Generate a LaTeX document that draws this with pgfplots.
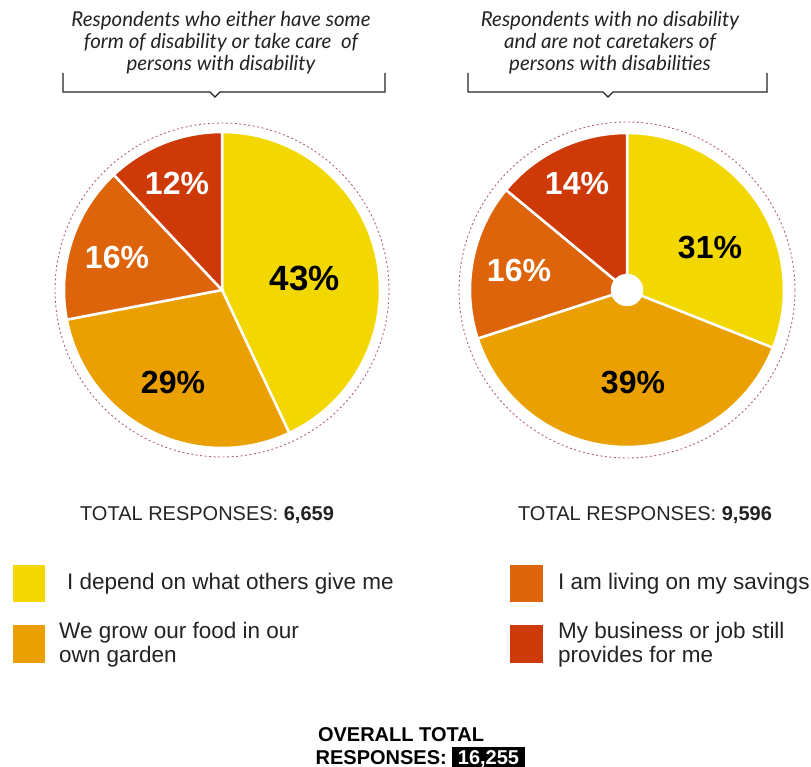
\documentclass[border=0pt]{standalone}
\usepackage{pgfplots}
\pgfplotsset{compat=1.18}
\usepgfplotslibrary{polar}
\usepackage{fontspec}
\setmainfont{Liberation Sans}
\newfontfamily\lato{Lato}
\definecolor{cY}{RGB}{242,216,0}
\definecolor{cO}{RGB}{234,160,0}
\definecolor{cD}{RGB}{222,100,12}
\definecolor{cR}{RGB}{205,58,8}
\definecolor{cDash}{RGB}{175,100,110}
\definecolor{txt}{RGB}{35,35,35}
\begin{document}
\begin{tikzpicture}[x=1pt,y=-1pt]
\useasboundingbox (0,0) rectangle (811,767);
% ---------- left pie: 43, 29, 16, 12 ----------
\begin{polaraxis}[at={(222pt,-290pt)}, anchor=origin, hide axis, scale only axis,
  width=336pt, height=336pt, ymin=0, ymax=168, clip=false]
\addplot[fill=cY, draw=white, line width=2.5pt, domain={90-3.6*(43)}:{90}, samples=90] {158} -- (axis cs:0,0) -- cycle;
\addplot[fill=cO, draw=white, line width=2.5pt, domain={90-3.6*(43+29)}:{90-3.6*(43)}, samples=90] {158} -- (axis cs:0,0) -- cycle;
\addplot[fill=cD, draw=white, line width=2.5pt, domain={90-3.6*(43+29+16)}:{90-3.6*(43+29)}, samples=60] {158} -- (axis cs:0,0) -- cycle;
\addplot[fill=cR, draw=white, line width=2.5pt, domain={90-3.6*(43+29+16+12)}:{90-3.6*(43+29+16)}, samples=60] {158} -- (axis cs:0,0) -- cycle;
\addplot[draw=cDash, line width=0.9pt, dash pattern=on 2pt off 2.5pt, domain=0:360, samples=200] {167};
\end{polaraxis}
% ---------- right pie: 31, 39, 16, 14 ----------
\begin{polaraxis}[at={(627pt,-290pt)}, anchor=origin, hide axis, scale only axis,
  width=336pt, height=336pt, ymin=0, ymax=168, clip=false]
\addplot[fill=cY, draw=white, line width=2.5pt, domain={90-3.6*(31)}:{90}, samples=90] {157} -- (axis cs:0,0) -- cycle;
\addplot[fill=cO, draw=white, line width=2.5pt, domain={90-3.6*(31+39)}:{90-3.6*(31)}, samples=90] {157} -- (axis cs:0,0) -- cycle;
\addplot[fill=cD, draw=white, line width=2.5pt, domain={90-3.6*(31+39+16)}:{90-3.6*(31+39)}, samples=60] {157} -- (axis cs:0,0) -- cycle;
\addplot[fill=cR, draw=white, line width=2.5pt, domain={90-3.6*(31+39+16+14)}:{90-3.6*(31+39+16)}, samples=60] {157} -- (axis cs:0,0) -- cycle;
\addplot[only marks, mark=*, mark size=16pt, mark options={fill=white, draw=white}] coordinates {(0,0)};
\addplot[draw=cDash, line width=0.9pt, dash pattern=on 2pt off 2.5pt, domain=0:360, samples=200] {168};
\end{polaraxis}
% ---------- slice labels ----------
\begin{scope}[every node/.style={font=\bfseries\fontsize{32}{32}\selectfont, inner sep=0pt}]
\node[black] at (305,278) {\fontsize{35}{35}\selectfont 43\%};
\node[black] at (173,382) {29\%};
\node[white] at (117,257) {16\%};
\node[white] at (177,183) {12\%};
\node[black] at (710,248) {31\%};
\node[black] at (633,383) {39\%};
\node[white] at (519,270) {16\%};
\node[white] at (577,183) {14\%};
\end{scope}
% ---------- headers ----------
\node[font=\lato\itshape\fontsize{20.5}{22}\selectfont, text=txt, align=center] at (221,43)
  {Respondents who either have some\\form of disability or take care\ \ of\\persons with disability};
\node[font=\lato\itshape\fontsize{20.5}{22}\selectfont, text=txt, align=center] at (610,43)
  {Respondents with no disability\\and are not caretakers of\\persons with disabilities};
\draw[txt, line width=1.3pt] (63,73) -- (63,92) -- (210,92) -- (215,97) -- (220,92) -- (385,92) -- (385,73);
\draw[txt, line width=1.3pt] (468,73) -- (468,92) -- (603,92) -- (608,97) -- (613,92) -- (767,92) -- (767,73);
% ---------- totals ----------
\node[font=\fontsize{20}{20}\selectfont, text=txt] at (207,515) {TOTAL RESPONSES: \textbf{6,659}};
\node[font=\fontsize{20}{20}\selectfont, text=txt] at (645,515) {TOTAL RESPONSES: \textbf{9,596}};
% ---------- legend ----------
\fill[cY] (13,565) rectangle (45,602);
\fill[cO] (13,625) rectangle (45,663);
\fill[cD] (510,565) rectangle (543,602);
\fill[cR] (510,625) rectangle (543,663);
\begin{scope}[every node/.style={font=\fontsize{22.5}{24}\selectfont, text=txt, anchor=west, align=left, inner sep=0pt}]
\node at (67,584) {I depend on what others give me};
\node at (59,645) {We grow our food in our\\own garden};
\node at (558,584) {I am living on my savings};
\node at (558,645) {My business or job still\\provides for me};
\end{scope}
% ---------- overall ----------
\node[font=\bfseries\fontsize{20}{20}\selectfont, text=black, anchor=base, inner sep=0pt] at (401,741) {OVERALL TOTAL};
\node[font=\bfseries\fontsize{20}{20}\selectfont, text=black, anchor=base east, inner sep=0pt] at (447,764) {RESPONSES:};
\fill[black] (452,747) rectangle (525,767);
\node[font=\bfseries\fontsize{20}{20}\selectfont, text=white, anchor=base, inner sep=0pt] at (488.5,764) {16,255};
\end{tikzpicture}
\end{document}
